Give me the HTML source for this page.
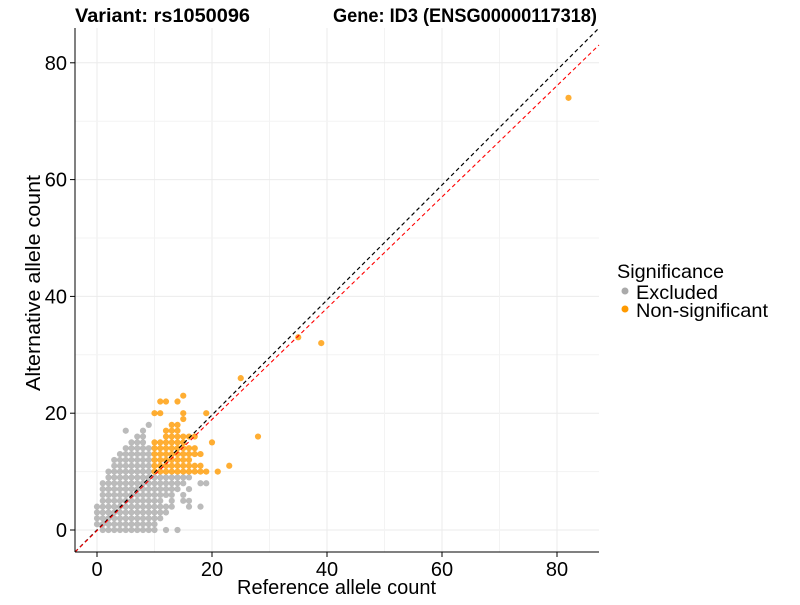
<!DOCTYPE html>
<html><head><meta charset="utf-8"><style>
body{margin:0;background:#fff;width:800px;height:600px;overflow:hidden}
svg text{font-family:"Liberation Sans",Arial,sans-serif}
</style></head><body>
<svg id="s" width="800" height="600" xmlns="http://www.w3.org/2000/svg">
<rect width="800" height="600" fill="#fff"/>
<g id="grid" stroke="#ebebeb" stroke-width="1"></g>
<g id="pts"></g>
<line x1="75" y1="552" x2="599" y2="28" stroke="#000" stroke-width="1.2" stroke-dasharray="4,3"/>
<line x1="75" y1="552" x2="599" y2="45" stroke="#f00" stroke-width="1.1" stroke-dasharray="4,3"/>
<line x1="75" y1="28" x2="75" y2="552" stroke="#000" stroke-width="1"/>
<line x1="75" y1="552" x2="599" y2="552" stroke="#000" stroke-width="1"/>
<g id="ticks" font-size="20" fill="#000"></g>
<text x="75" y="22" font-size="19" font-weight="bold" textLength="175" lengthAdjust="spacingAndGlyphs">Variant: rs1050096</text>
<text x="333" y="22" font-size="19" font-weight="bold" textLength="264" lengthAdjust="spacingAndGlyphs">Gene: ID3 (ENSG00000117318)</text>
<text x="237" y="594" font-size="20" textLength="199" lengthAdjust="spacingAndGlyphs">Reference allele count</text>
<text transform="translate(40,391) rotate(-90)" font-size="20" textLength="216" lengthAdjust="spacingAndGlyphs">Alternative allele count</text>
<text x="617" y="278" font-size="19.5" textLength="107" lengthAdjust="spacingAndGlyphs">Significance</text>
<circle cx="625" cy="291" r="3.5" fill="#aaa"/>
<text x="636" y="299" font-size="19.5" textLength="82" lengthAdjust="spacingAndGlyphs">Excluded</text>
<circle cx="625" cy="309" r="3.5" fill="#ff9a00"/>
<text x="636" y="317" font-size="19.5" textLength="132" lengthAdjust="spacingAndGlyphs">Non-significant</text>
</svg>
<script>
var NS="http://www.w3.org/2000/svg";
function px(x){return 97+5.75*x}function py(y){return 530-5.84*y}
function el(p,t,a){var e=document.createElementNS(NS,t);for(var k in a)e.setAttribute(k,a[k]);p.appendChild(e);return e}
var g=document.getElementById('grid'),tk=document.getElementById('ticks'),P=document.getElementById('pts');
for(var v=0;v<=80;v+=10){var X=px(v),Y=py(v);
 if(X<599)el(g,'line',{x1:X,y1:28,x2:X,y2:552,stroke:v%20?'#f3f3f3':'#ebebeb'});
 if(Y>28)el(g,'line',{x1:75,y1:Y,x2:599,y2:Y,stroke:v%20?'#f3f3f3':'#ebebeb'});
 if(v%20==0){el(tk,'line',{x1:X,y1:552,x2:X,y2:557,stroke:'#000'});el(tk,'line',{x1:70,y1:Y,x2:75,y2:Y,stroke:'#000'});
 var t=el(tk,'text',{x:X,y:576,'text-anchor':'middle'});t.textContent=v;
 t=el(tk,'text',{x:67,y:Y+7,'text-anchor':'end'});t.textContent=v;}}
var rows={0:[[1,10],[12],[14]],1:[[0,10]],2:[[0,11]],3:[[0,12]],4:[[0,13],[16],[18]],5:[[1,11],[13],[15,16]],6:[[1,13],[15]],7:[[1,14],[16]],8:[[1,15],[18,19]],9:[[2,16]],
10:[[2,19],[21]],11:[[3,18],[23]],12:[[3,16]],13:[[4,18]],14:[[5,17]],15:[[6,8],[10,15],[20]],16:[[7,8],[12,17],[28]],17:[[5],[8],[12,14]],18:[[9],[13,14]],19:[[15]],20:[[10],[11],[15],[19]],22:[[11],[12],[14]],23:[[15]],26:[[25]],32:[[39]],33:[[35]],74:[[82]]};
for(var y in rows){rows[y].forEach(function(r){var a=r[0],b=r.length>1?r[1]:r[0];for(var x=a;x<=b;x++){var o=(x>=10&&y>=10);
 el(P,'circle',{cx:px(x),cy:py(+y),r:3.1,fill:o?'#ff9a00':'#aaa','fill-opacity':o?0.8:0.8});}});}
</script>
</body></html>
